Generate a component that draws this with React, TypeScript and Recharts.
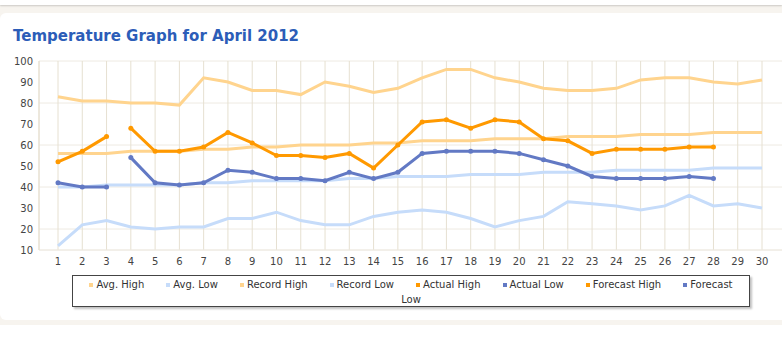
import React from 'react';
import { LineChart, Line, XAxis, YAxis, CartesianGrid } from 'recharts';

// April 2012, values
const days = [1, 2, 3, 4, 5, 6, 7, 8, 9, 10, 11, 12, 13, 14, 15, 16, 17, 18, 19, 20, 21, 22, 23, 24, 25, 26, 27, 28, 29, 30];
const recordHigh = [83, 81, 81, 80, 80, 79, 92, 90, 86, 86, 84, 90, 88, 85, 87, 92, 96, 96, 92, 90, 87, 86, 86, 87, 91, 92, 92, 90, 89, 91];
const avgHigh = [56, 56, 56, 57, 57, 57, 58, 58, 59, 59, 60, 60, 60, 61, 61, 62, 62, 62, 63, 63, 63, 64, 64, 64, 65, 65, 65, 66, 66, 66];
const avgLow = [40, 40, 41, 41, 41, 41, 42, 42, 43, 43, 43, 43, 44, 44, 45, 45, 45, 46, 46, 46, 47, 47, 47, 48, 48, 48, 48, 49, 49, 49];
const recordLow = [12, 22, 24, 21, 20, 21, 21, 25, 25, 28, 24, 22, 22, 26, 28, 29, 28, 25, 21, 24, 26, 33, 32, 31, 29, 31, 36, 31, 32, 30];
const actualHigh = [52, 57, 64];
const actualLow = [42, 40, 40];
const forecastHigh = [null, null, null, 68, 57, 57, 59, 66, 61, 55, 55, 54, 56, 49, 60, 71, 72, 68, 72, 71, 63, 62, 56, 58, 58, 58, 59, 59];
const forecastLow = [null, null, null, 54, 42, 41, 42, 48, 47, 44, 44, 43, 47, 44, 47, 56, 57, 57, 57, 56, 53, 50, 45, 44, 44, 44, 45, 44];
const yTicks = [10, 20, 30, 40, 50, 60, 70, 80, 90, 100];

const LIGHT_ORANGE = '#FFD48E';
const LIGHT_BLUE = '#C6DCFA';
const ORANGE = '#FF9900';
const BLUE = '#6279C4';
const FONT = '"DejaVu Sans", Verdana, sans-serif';

// last label wraps onto a second line in the original ("Forecast" / "Low")
const legendItems = [
  { label: 'Avg. High', color: LIGHT_ORANGE },
  { label: 'Avg. Low', color: LIGHT_BLUE },
  { label: 'Record High', color: LIGHT_ORANGE },
  { label: 'Record Low', color: LIGHT_BLUE },
  { label: 'Actual High', color: ORANGE },
  { label: 'Actual Low', color: BLUE },
  { label: 'Forecast High', color: ORANGE },
  { label: 'Forecast', color: BLUE },
];
const legendWrap = 'Low';

const data = days.map((d, i) => ({
  day: d,
  recordHigh: recordHigh[i],
  avgHigh: avgHigh[i],
  avgLow: avgLow[i],
  recordLow: recordLow[i],
  actualHigh: actualHigh[i] ?? null,
  actualLow: actualLow[i] ?? null,
  forecastHigh: forecastHigh[i] ?? null,
  forecastLow: forecastLow[i] ?? null,
}));

const tickStyle = { fill: '#444', fontSize: 10, fontFamily: FONT };

export default function App() {
  return (
    <div style={{ position: 'absolute', left: 0, top: 0, width: 782, height: 345, overflow: 'hidden', background: '#fff', fontFamily: FONT }}>
      {/* page background / card frames */}
      <div style={{ position: 'absolute', left: 0, top: 5, width: 782, height: 320, background: '#F7F4EF' }} />
      <div style={{ position: 'absolute', left: 0, top: 0, width: 782, height: 5, background: '#fff', boxShadow: '0 1px 2px rgba(0,0,0,0.18)' }} />
      <div style={{ position: 'absolute', left: 0, top: 13, width: 800, height: 307, background: '#fff', borderRadius: 6 }} />

      <div style={{ position: 'absolute', left: 13, top: 27, fontSize: 15, lineHeight: '18px', fontWeight: 'bold', color: '#2C5DB8', whiteSpace: 'nowrap' }}>
        Temperature Graph for April 2012
      </div>

      <div style={{ position: 'absolute', left: 0, top: 0 }}>
        <LineChart width={783} height={345} data={data} margin={{ top: 61, right: 0, bottom: 75, left: 0 }}>
          <CartesianGrid vertical={false} stroke="#EEEAE2" strokeWidth={1} />
          <CartesianGrid horizontal={false} stroke="#E6E0D1" strokeWidth={1} />
          <XAxis
            dataKey="day"
            padding={{ left: 19, right: 21 }}
            interval={0}
            tick={tickStyle}
            tickLine={false}
            tickSize={0}
            tickMargin={8}
            axisLine={{ stroke: '#EEEAE2' }}
            height={20}
          />
          <YAxis
            domain={[10, 100]}
            ticks={yTicks}
            width={39}
            tick={tickStyle}
            tickLine={false}
            tickSize={0}
            tickMargin={6}
            axisLine={{ stroke: '#E6E0D1' }}
          />
          <Line dataKey="recordHigh" stroke={LIGHT_ORANGE} strokeWidth={3} dot={false} isAnimationActive={false} />
          <Line dataKey="avgHigh" stroke={LIGHT_ORANGE} strokeWidth={3} dot={false} isAnimationActive={false} />
          <Line dataKey="avgLow" stroke={LIGHT_BLUE} strokeWidth={3} dot={false} isAnimationActive={false} />
          <Line dataKey="recordLow" stroke={LIGHT_BLUE} strokeWidth={3} dot={false} isAnimationActive={false} />
          <Line dataKey="actualLow" stroke={BLUE} strokeWidth={3} dot={{ r: 2.5, fill: BLUE, stroke: 'none' }} isAnimationActive={false} />
          <Line dataKey="forecastLow" stroke={BLUE} strokeWidth={3} dot={{ r: 2.5, fill: BLUE, stroke: 'none' }} isAnimationActive={false} />
          <Line dataKey="actualHigh" stroke={ORANGE} strokeWidth={3} dot={{ r: 2.5, fill: ORANGE, stroke: 'none' }} isAnimationActive={false} />
          <Line dataKey="forecastHigh" stroke={ORANGE} strokeWidth={3} dot={{ r: 2.5, fill: ORANGE, stroke: 'none' }} isAnimationActive={false} />
        </LineChart>
      </div>

      {/* legend box */}
      <div
        style={{
          position: 'absolute',
          left: 72,
          top: 275,
          width: 676,
          height: 29,
          border: '1px solid #444',
          boxShadow: '2px 2px 2px rgba(0,0,0,0.25)',
          background: '#fff',
          fontSize: 10,
          lineHeight: '15px',
          color: '#333',
          paddingTop: 1,
          boxSizing: 'content-box',
        }}
      >
        <div style={{ display: 'flex', justifyContent: 'center', gap: 22 }}>
          {legendItems.map((item) => (
            <div key={item.label} style={{ display: 'flex', alignItems: 'center', whiteSpace: 'nowrap' }}>
              <div style={{ width: 4, height: 4, background: item.color, marginRight: 3 }} />
              <div>{item.label}</div>
            </div>
          ))}
        </div>
        <div style={{ textAlign: 'center' }}>{legendWrap}</div>
      </div>
    </div>
  );
}
